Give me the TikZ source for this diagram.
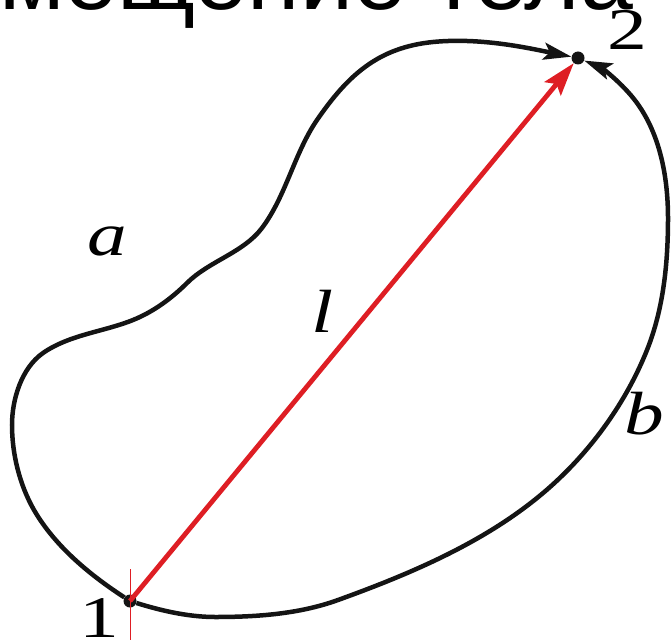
\documentclass[tikz,border=0pt]{standalone}
\usepackage{fontspec}
\setmainfont{Liberation Serif}
\newfontfamily\titlefont{Liberation Sans}
\usetikzlibrary{arrows.meta,positioning}
\definecolor{pathblack}{RGB}{20,20,20}
\definecolor{shiftred}{RGB}{222,30,36}
\tikzset{
  trajectory/.style={line width=4.5pt,draw=pathblack,
    -{Stealth[length=28pt,width=17pt,inset=6pt]}},
  displacement/.style={line width=4.8pt,draw=shiftred,
    -{Stealth[length=33pt,width=21pt,inset=6pt]}},
  pointdot/.style={circle,fill=pathblack,inner sep=0pt,minimum size=13pt},
  pointlabel/.style={inner sep=0pt,font=\fontsize{59}{60}\selectfont,xscale=1.35},
  pathlabel/.style={inner sep=0pt,font=\fontsize{61}{62}\selectfont\itshape,xscale=1.3},
  titletext/.style={anchor=base east,inner sep=0pt,
    font=\titlefont\fontsize{95}{95}\selectfont},
  marktick/.style={line width=0.9pt,draw=shiftred}
}

\begin{document}
\begin{tikzpicture}[x=1pt,y=-1pt]
  \useasboundingbox (0,0) rectangle (671,639);
  \node[titletext] (title) at (633,10) {перемещение тела};
  \node[pointdot] (p1) at (130,601) {};
  \node[pointdot] (p2) at (578,58) {};
  % path a, over the top
  \draw[trajectory] (p1) .. controls (93,577) and (56,548) .. (34,510)
    .. controls (19.6,484.9) and (12,454) .. (12,425)
    .. controls (12,399) and (21.7,367.9) .. (43,353)
    .. controls (69.2,334.7) and (103.3,331.9) .. (133,320)
    .. controls (153.2,311.9) and (171.6,298.4) .. (187,283)
    .. controls (208.9,261.1) and (243.4,252.8) .. (262,228)
    .. controls (286,196) and (294.4,153) .. (317,120)
    .. controls (348,75) and (378.3,47.5) .. (433,42)
    .. controls (481.4,37.2) and (530.2,48.5) .. (p2);
  % path b, round the bottom
  \draw[trajectory] (p1) .. controls (157.5,609.5) and (186.2,617) .. (215,617)
    .. controls (256.4,617) and (299.1,614.1) .. (338,600)
    .. controls (413.2,572.8) and (490.2,540.1) .. (550,487)
    .. controls (591.8,449.8) and (626.2,402) .. (647,350)
    .. controls (663.6,308.5) and (668,262.7) .. (668,218)
    .. controls (668,178.1) and (660.4,135.3) .. (637,103)
    .. controls (622.5,83) and (600.8,67.5) .. (p2);
  % displacement
  \draw[displacement] (p1.center) -- (p2);
  \draw[marktick] ([yshift=32pt]p1.center) -- ([yshift=-40pt]p1.center);
  \node[pointlabel] (n1) at (99,618) {1};
  \node[pointlabel] (n2) at (627,30) {2};
  \node[pathlabel] (la) at (107,241) {a};
  \node[pathlabel] (ll) at (323,311) {l};
  \node[pathlabel] (lb) at (644,414) {b};
\end{tikzpicture}
\end{document}
